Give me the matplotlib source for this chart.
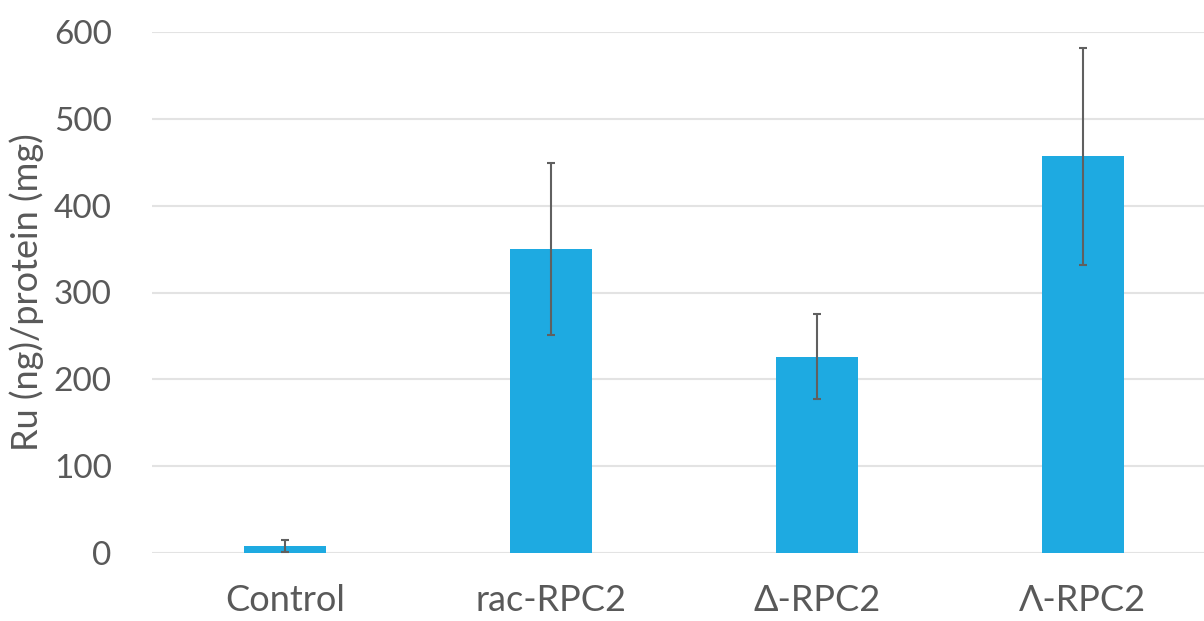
import matplotlib.pyplot as plt

categories = ['Control', 'rac-RPC2', 'Δ-RPC2', 'Λ-RPC2']
values = [8, 350, 226, 457]
errors = [7, 99, 49, 125]
yticks = [0, 100, 200, 300, 400, 500, 600]

plt.rcParams['font.family'] = ['Lato', 'DejaVu Sans']
grey = '#595959'

fig = plt.figure(figsize=(12.04, 6.21), dpi=100)
ax = fig.add_axes([152 / 1204, 68 / 621, 1052 / 1204, 521 / 621])

x = range(len(categories))
ax.bar(x, values, width=0.31, color='#1EAAE1', zorder=2)
ax.errorbar(x, values, yerr=errors, fmt='none', ecolor='#606060',
            elinewidth=1.5, capsize=3, capthick=1.5, zorder=3)

ax.set_ylim(0, 600)
ax.set_xlim(-0.5, 3.455)
ax.set_yticks(yticks)
ax.set_xticks(list(x))
ax.set_xticklabels(categories)
ax.yaxis.grid(True, color='#e3e3e3', linewidth=1.5, zorder=0)
for s in ax.spines.values():
    s.set_visible(False)
ax.tick_params(axis='both', length=0, colors=grey)
ax.tick_params(axis='y', labelsize=24, pad=29)
ax.tick_params(axis='x', labelsize=26, pad=22)
ax.set_ylabel('Ru (ng)/protein (mg)', fontsize=26, color=grey, labelpad=7)

fig.savefig('out.png', dpi=100)
